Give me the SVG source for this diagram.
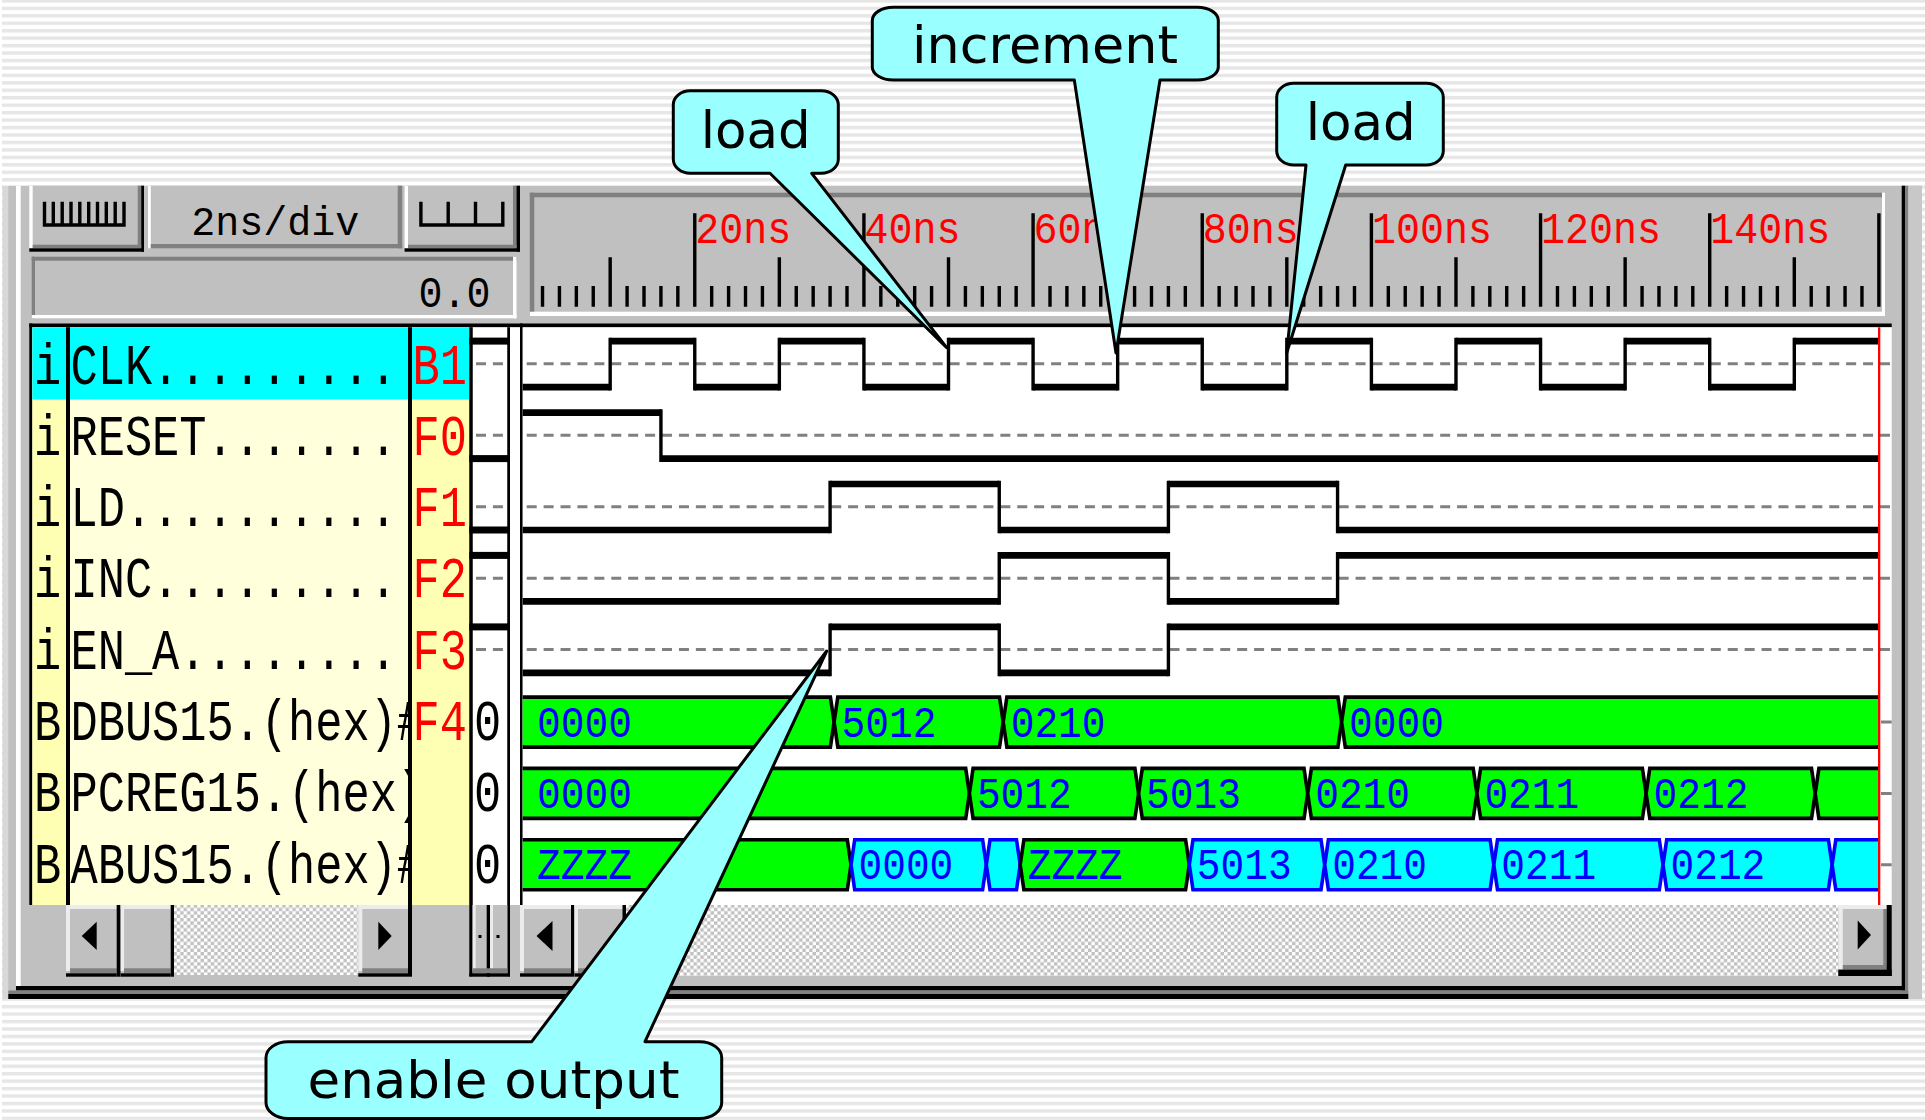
<svg xmlns="http://www.w3.org/2000/svg" width="1925" height="1120" viewBox="0 0 1925 1120">
<defs>
  <pattern id="bgStripes" x="0" y="-0.8" width="8" height="7.45" patternUnits="userSpaceOnUse">
    <rect width="8" height="7.45" fill="#ffffff"/>
    <rect width="8" height="3.4" fill="#e6e6e6"/>
  </pattern>
  <pattern id="checker" x="0" y="0" width="6.8" height="6.8" patternUnits="userSpaceOnUse">
    <rect width="6.8" height="6.8" fill="#c0c0c0"/>
    <rect width="3.4" height="3.4" fill="#ffffff"/>
    <rect x="3.4" y="3.4" width="3.4" height="3.4" fill="#ffffff"/>
  </pattern>
  <clipPath id="nameClip" clipPathUnits="userSpaceOnUse"><rect x="70" y="327" width="338" height="578"/></clipPath>
  <clipPath id="waveClip"><rect x="522.7" y="327.3" width="1356" height="578"/></clipPath>
  <style>
    .mono{font-family:"Liberation Mono","DejaVu Sans Mono",monospace}
    .lbl{font-size:45.33px;fill:#000000}
    .code{font-size:45.33px;fill:#ff0000}
    .rt{font-size:45px;fill:#ff0000}
    .bt{font-size:45px;fill:#0000ff}
    .lvl{fill:none;stroke:#000000;stroke-width:6.7}
    .ed{fill:none;stroke:#000000;stroke-width:3.4}
    .dash{fill:none;stroke:#808080;stroke-width:3;stroke-dasharray:10 6.916}
    .sg{fill:#00ff00;stroke:#000000;stroke-width:3.6}
    .sc{fill:#00ffff;stroke:#0000ff;stroke-width:3.6}
    .tick{fill:none;stroke:#000000;stroke-width:3.4}
    .face{fill:#c0c0c0}
    .lite{fill:#ececec}
    .shade{fill:#808080}
    .blk{fill:#000000}
    .callout{fill:#99ffff;stroke:#000000;stroke-width:3;stroke-linejoin:round}
    .ct{font-family:"DejaVu Sans",Verdana,sans-serif;font-size:51px;fill:#000000}
  </style>
</defs>

<!-- slide background -->
<rect width="1925" height="1120" fill="#ffffff"/>
<rect x="2" y="0" width="1923" height="1120" fill="url(#bgStripes)"/>

<!-- simulator window frame -->
<g id="window-frame">
  <rect x="2.7" y="185" width="1919.3" height="814" class="face"/>
  <rect x="2.7" y="185" width="5.6" height="814" fill="#d8d8d8"/>
  <rect x="2.7" y="183.3" width="1919.3" height="2.4" fill="#ffffff"/>
  <rect x="16" y="185.7" width="4.7" height="800.3" fill="#ffffff"/>
  <rect x="1901.7" y="185.7" width="3.3" height="804.8" class="blk"/>
  <rect x="1905" y="185.7" width="3.3" height="808.3" class="shade"/>
  <rect x="1908.3" y="185.7" width="13.7" height="813.3" fill="#c8c8c8"/>
  <rect x="16" y="986" width="1889" height="4.5" class="blk"/>
  <rect x="8.3" y="990.5" width="1900" height="3.5" class="shade"/>
  <rect x="8.3" y="994" width="1900" height="5" class="blk"/>
</g>

<!-- toolbar: zoom buttons, scale, cursor position -->
<g id="toolbar">
  <g id="btn-zoom-in">
    <rect x="29.3" y="185.7" width="114.7" height="66" class="face"/>
    <rect x="29.3" y="185.7" width="3.4" height="62.6" fill="#ffffff"/>
    <rect x="137.7" y="185.7" width="3.5" height="62.6" class="shade"/>
    <rect x="141.2" y="185.7" width="2.8" height="66" class="blk"/>
    <rect x="32.7" y="244.7" width="108.5" height="3.6" class="shade"/>
    <rect x="29.3" y="248.3" width="114.7" height="3.4" class="blk"/>
    <path class="tick" d="M44.5,201.7V226.7 M53.3,201.7V226.7 M62.2,201.7V226.7 M71,201.7V226.7 M79.8,201.7V226.7 M88.7,201.7V226.7 M97.5,201.7V226.7 M106.3,201.7V226.7 M115.2,201.7V226.7 M124,201.7V226.7 M42.8,225H125.7"/>
  </g>
  <g id="btn-scale">
    <rect x="148" y="185.7" width="254.2" height="62.6" class="face"/>
    <rect x="148" y="185.7" width="2.8" height="62.6" fill="#ffffff"/>
    <rect x="397.7" y="185.7" width="4.5" height="62.6" class="shade"/>
    <rect x="150.8" y="244" width="251.4" height="4.3" class="shade"/>
    <text x="191.3" y="235" class="mono" font-size="40" textLength="168" lengthAdjust="spacingAndGlyphs">2ns/div</text>
  </g>
  <g id="btn-zoom-out">
    <rect x="404.6" y="185.7" width="115.4" height="66" class="face"/>
    <rect x="404.6" y="185.7" width="3.4" height="62.6" fill="#ffffff"/>
    <rect x="513" y="185.7" width="3.5" height="62.6" class="shade"/>
    <rect x="516.5" y="185.7" width="3.5" height="66" class="blk"/>
    <rect x="408" y="244.7" width="108.5" height="3.6" class="shade"/>
    <rect x="404.6" y="248.3" width="115.4" height="3.4" class="blk"/>
    <path class="tick" d="M420.9,201.7V226.7 M448.2,201.7V226.7 M475.5,201.7V226.7 M502.8,201.7V226.7 M419.2,225H504.5"/>
  </g>
  <g id="cursor-position">
    <rect x="31.7" y="256.7" width="484.8" height="61.6" class="face"/>
    <rect x="31.7" y="256.7" width="484.8" height="4" class="shade"/>
    <rect x="31.7" y="256.7" width="3.3" height="61.6" class="shade"/>
    <rect x="31.7" y="315" width="484.8" height="3.3" fill="#ffffff"/>
    <rect x="513" y="256.7" width="3.5" height="61.6" fill="#ffffff"/>
    <text x="418.5" y="306.7" class="mono" font-size="45" textLength="72" lengthAdjust="spacingAndGlyphs">0.0</text>
  </g>
</g>

<!-- time ruler -->
<g id="time-ruler">
  <rect x="529.8" y="192.7" width="1352.2" height="4.6" class="shade"/>
  <rect x="529.8" y="192.7" width="4.5" height="123.3" class="shade"/>
  <rect x="529.8" y="311.7" width="1355.2" height="4.3" fill="#ffffff"/>
  <rect x="1882" y="192.7" width="3" height="123.3" fill="#ffffff"/>
  <path class="tick" d="M542.52,286V306.7 M559.43,286V306.7 M576.35,286V306.7 M593.26,286V306.7 M627.1,286V306.7 M644.01,286V306.7 M660.93,286V306.7 M677.84,286V306.7 M711.68,286V306.7 M728.59,286V306.7 M745.51,286V306.7 M762.42,286V306.7 M796.26,286V306.7 M813.17,286V306.7 M830.09,286V306.7 M847,286V306.7 M880.84,286V306.7 M897.75,286V306.7 M914.67,286V306.7 M931.58,286V306.7 M965.42,286V306.7 M982.33,286V306.7 M999.25,286V306.7 M1016.16,286V306.7 M1050,286V306.7 M1066.91,286V306.7 M1083.83,286V306.7 M1100.74,286V306.7 M1134.58,286V306.7 M1151.49,286V306.7 M1168.41,286V306.7 M1185.32,286V306.7 M1219.16,286V306.7 M1236.07,286V306.7 M1252.99,286V306.7 M1269.9,286V306.7 M1303.74,286V306.7 M1320.65,286V306.7 M1337.57,286V306.7 M1354.48,286V306.7 M1388.32,286V306.7 M1405.23,286V306.7 M1422.15,286V306.7 M1439.06,286V306.7 M1472.9,286V306.7 M1489.81,286V306.7 M1506.73,286V306.7 M1523.64,286V306.7 M1557.48,286V306.7 M1574.39,286V306.7 M1591.31,286V306.7 M1608.22,286V306.7 M1642.06,286V306.7 M1658.97,286V306.7 M1675.89,286V306.7 M1692.8,286V306.7 M1726.64,286V306.7 M1743.55,286V306.7 M1760.47,286V306.7 M1777.38,286V306.7 M1811.22,286V306.7 M1828.13,286V306.7 M1845.05,286V306.7 M1861.96,286V306.7"/>
  <path class="tick" d="M610.18,257.3V306.7 M779.34,257.3V306.7 M948.5,257.3V306.7 M1117.66,257.3V306.7 M1286.82,257.3V306.7 M1455.98,257.3V306.7 M1625.14,257.3V306.7 M1794.3,257.3V306.7"/>
  <path class="tick" d="M694.76,213.3V306.7 M863.92,213.3V306.7 M1033.08,213.3V306.7 M1202.24,213.3V306.7 M1371.4,213.3V306.7 M1540.56,213.3V306.7 M1709.72,213.3V306.7 M1878.88,213.3V306.7"/>
  <g class="mono rt">
    <text x="695.3" y="243.3" textLength="96" lengthAdjust="spacingAndGlyphs">20ns</text>
    <text x="864.4" y="243.3" textLength="96" lengthAdjust="spacingAndGlyphs">40ns</text>
    <text x="1033.6" y="243.3" textLength="96" lengthAdjust="spacingAndGlyphs">60ns</text>
    <text x="1202.7" y="243.3" textLength="96" lengthAdjust="spacingAndGlyphs">80ns</text>
    <text x="1371.9" y="243.3" textLength="120" lengthAdjust="spacingAndGlyphs">100ns</text>
    <text x="1541.1" y="243.3" textLength="120" lengthAdjust="spacingAndGlyphs">120ns</text>
    <text x="1710.2" y="243.3" textLength="120" lengthAdjust="spacingAndGlyphs">140ns</text>
  </g>
</g>

<!-- signal list panel -->
<g id="signal-list">
  <rect x="29.3" y="323.5" width="1862.4" height="3.8" class="blk"/>
  <rect x="29.3" y="323.5" width="3" height="581.5" class="blk"/>
  <rect x="32.3" y="327.3" width="33.7" height="577.7" fill="#ffffb4"/>
  <rect x="70" y="327.3" width="338" height="577.7" fill="#ffffdc"/>
  <rect x="412" y="327.3" width="57.3" height="577.7" fill="#ffffb4"/>
  <rect x="472.7" y="327.3" width="34.6" height="577.7" fill="#ffffff"/>
  <rect x="510" y="327.3" width="10" height="577.7" fill="#ffffff"/>
  <rect x="32.3" y="327.3" width="33.7" height="72.2" fill="#00ffff"/>
  <rect x="70" y="327.3" width="338" height="72.2" fill="#00ffff"/>
  <rect x="412" y="327.3" width="57.3" height="72.2" fill="#00ffff"/>
  <rect x="66" y="327.3" width="4" height="577.7" class="blk"/>
  <rect x="408" y="327.3" width="4" height="649.4" class="blk"/>
  <rect x="469.3" y="327.3" width="3.4" height="649" class="blk"/>
  <rect x="507.3" y="327.3" width="2.7" height="649" class="blk"/>
  <rect x="520" y="323.5" width="2.7" height="581.5" class="blk"/>

  <!-- type column -->
  <g class="mono lbl">
    <text transform="translate(34.1,383.5) scale(1,1.28)">i</text>
    <text transform="translate(34.1,454.8) scale(1,1.28)">i</text>
    <text transform="translate(34.1,526.1) scale(1,1.28)">i</text>
    <text transform="translate(34.1,597.4) scale(1,1.28)">i</text>
    <text transform="translate(34.1,668.7) scale(1,1.28)">i</text>
    <text transform="translate(34.1,740) scale(1,1.28)">B</text>
    <text transform="translate(34.1,811.3) scale(1,1.28)">B</text>
    <text transform="translate(34.1,882.6) scale(1,1.28)">B</text>
  </g>
  <!-- signal names, cut at the column edge -->
  <g class="mono lbl" clip-path="url(#nameClip)">
    <text transform="translate(70.5,383.5) scale(1,1.28)">CLK.........</text>
    <text transform="translate(70.5,454.8) scale(1,1.28)">RESET.......</text>
    <text transform="translate(70.5,526.1) scale(1,1.28)">LD..........</text>
    <text transform="translate(70.5,597.4) scale(1,1.28)">INC.........</text>
    <text transform="translate(70.5,668.7) scale(1,1.28)">EN_A........</text>
    <text transform="translate(70.5,740) scale(1,1.28)">DBUS15.(hex)#</text>
    <text transform="translate(70.5,811.3) scale(1,1.28)">PCREG15.(hex)</text>
    <text transform="translate(70.5,882.6) scale(1,1.28)">ABUS15.(hex)#</text>
  </g>
  <!-- stimulus keys -->
  <g class="mono code">
    <text transform="translate(412.5,383.5) scale(1,1.28)">B1</text>
    <text transform="translate(412.5,454.8) scale(1,1.28)">F0</text>
    <text transform="translate(412.5,526.1) scale(1,1.28)">F1</text>
    <text transform="translate(412.5,597.4) scale(1,1.28)">F2</text>
    <text transform="translate(412.5,668.7) scale(1,1.28)">F3</text>
    <text transform="translate(412.5,740) scale(1,1.28)">F4</text>
  </g>
  <!-- value-at-cursor column -->
  <g id="cursor-values">
    <path class="dash" d="M476,363.8H503 M476,435.25H503 M476,506.7H503 M476,578.15H503 M476,649.6H503"/>
    <rect x="469.3" y="337.6" width="40.7" height="7" class="blk"/>
    <rect x="469.3" y="455.1" width="40.7" height="7" class="blk"/>
    <rect x="469.3" y="526.5" width="40.7" height="7" class="blk"/>
    <rect x="469.3" y="551.9" width="40.7" height="7" class="blk"/>
    <rect x="469.3" y="623.4" width="40.7" height="7" class="blk"/>
    <g class="mono lbl">
      <text transform="translate(474,740) scale(1,1.28)">0</text>
      <text transform="translate(474,811.3) scale(1,1.28)">0</text>
      <text transform="translate(474,882.6) scale(1,1.28)">0</text>
    </g>
  </g>
</g>

<!-- waveform pane -->
<g id="waveform-pane">
  <rect x="522.7" y="327.3" width="1369" height="577.7" fill="#ffffff"/>
  <path class="dash" d="M526.7,363.8H1891.7 M526.7,435.25H1891.7 M526.7,506.7H1891.7 M526.7,578.15H1891.7 M526.7,649.6H1891.7"/>
  <path fill="none" stroke="#808080" stroke-width="3" d="M1881,722.1H1891.7 M1881,793.4H1891.7 M1881,864.7H1891.7"/>

  <g clip-path="url(#waveClip)">
    <g id="sig-clk" transform="translate(0,341.1)">
      <path class="lvl" d="M522,46H610.18 M610.18,0H694.76 M694.76,46H779.34 M779.34,0H863.92 M863.92,46H948.5 M948.5,0H1033.08 M1033.08,46H1117.66 M1117.66,0H1202.24 M1202.24,46H1286.82 M1286.82,0H1371.4 M1371.4,46H1455.98 M1455.98,0H1540.56 M1540.56,46H1625.14 M1625.14,0H1709.72 M1709.72,46H1794.3 M1794.3,0H1880"/>
      <path class="ed" d="M610.18,-3.35V49.35 M694.76,-3.35V49.35 M779.34,-3.35V49.35 M863.92,-3.35V49.35 M948.5,-3.35V49.35 M1033.08,-3.35V49.35 M1117.66,-3.35V49.35 M1202.24,-3.35V49.35 M1286.82,-3.35V49.35 M1371.4,-3.35V49.35 M1455.98,-3.35V49.35 M1540.56,-3.35V49.35 M1625.14,-3.35V49.35 M1709.72,-3.35V49.35 M1794.3,-3.35V49.35"/>
    </g>
    <g id="sig-reset" transform="translate(0,412.55)">
      <path class="lvl" d="M522,0H660.93 M660.93,46H1880"/>
      <path class="ed" d="M660.93,-3.35V49.35"/>
    </g>
    <g id="sig-ld" transform="translate(0,484)">
      <path class="lvl" d="M522,46H830.09 M830.09,0H999.25 M999.25,46H1168.41 M1168.41,0H1337.57 M1337.57,46H1880"/>
      <path class="ed" d="M830.09,-3.35V49.35 M999.25,-3.35V49.35 M1168.41,-3.35V49.35 M1337.57,-3.35V49.35"/>
    </g>
    <g id="sig-inc" transform="translate(0,555.45)">
      <path class="lvl" d="M522,46H999.25 M999.25,0H1168.41 M1168.41,46H1337.57 M1337.57,0H1880"/>
      <path class="ed" d="M999.25,-3.35V49.35 M1168.41,-3.35V49.35 M1337.57,-3.35V49.35"/>
    </g>
    <g id="sig-en-a" transform="translate(0,626.9)">
      <path class="lvl" d="M522,46H830.09 M830.09,0H999.25 M999.25,46H1168.41 M1168.41,0H1880"/>
      <path class="ed" d="M830.09,-3.35V49.35 M999.25,-3.35V49.35 M1168.41,-3.35V49.35"/>
    </g>

    <g id="bus-dbus" transform="translate(0,697.1)">
      <polygon class="sg" points="508.7,0 830.4,0 834.1,25 830.4,50 508.7,50 505,25"/>
      <polygon class="sg" points="837.8,0 999.5,0 1003.2,25 999.5,50 837.8,50 834.1,25"/>
      <polygon class="sg" points="1006.9,0 1337.9,0 1341.6,25 1337.9,50 1006.9,50 1003.2,25"/>
      <polygon class="sg" points="1345.3,0 1896.3,0 1900,25 1896.3,50 1345.3,50 1341.6,25"/>
      <g class="mono bt">
        <text x="537.1" y="39.6" textLength="94.8" lengthAdjust="spacingAndGlyphs">0000</text>
        <text x="841.6" y="39.6" textLength="94.8" lengthAdjust="spacingAndGlyphs">5012</text>
        <text x="1010.7" y="39.6" textLength="94.8" lengthAdjust="spacingAndGlyphs">0210</text>
        <text x="1349.1" y="39.6" textLength="94.8" lengthAdjust="spacingAndGlyphs">0000</text>
      </g>
    </g>
    <g id="bus-pcreg" transform="translate(0,768.4)">
      <polygon class="sg" points="508.7,0 965.7,0 969.4,25 965.7,50 508.7,50 505,25"/>
      <polygon class="sg" points="973.1,0 1134.9,0 1138.6,25 1134.9,50 973.1,50 969.4,25"/>
      <polygon class="sg" points="1142.3,0 1304,0 1307.7,25 1304,50 1142.3,50 1138.6,25"/>
      <polygon class="sg" points="1311.4,0 1473.2,0 1476.9,25 1473.2,50 1311.4,50 1307.7,25"/>
      <polygon class="sg" points="1480.6,0 1642.4,0 1646.1,25 1642.4,50 1480.6,50 1476.9,25"/>
      <polygon class="sg" points="1649.8,0 1811.5,0 1815.2,25 1811.5,50 1649.8,50 1646.1,25"/>
      <polygon class="sg" points="1818.9,0 1896.3,0 1900,25 1896.3,50 1818.9,50 1815.2,25"/>
      <g class="mono bt">
        <text x="537.1" y="39.6" textLength="94.8" lengthAdjust="spacingAndGlyphs">0000</text>
        <text x="976.9" y="39.6" textLength="94.8" lengthAdjust="spacingAndGlyphs">5012</text>
        <text x="1146.1" y="39.6" textLength="94.8" lengthAdjust="spacingAndGlyphs">5013</text>
        <text x="1315.2" y="39.6" textLength="94.8" lengthAdjust="spacingAndGlyphs">0210</text>
        <text x="1484.4" y="39.6" textLength="94.8" lengthAdjust="spacingAndGlyphs">0211</text>
        <text x="1653.6" y="39.6" textLength="94.8" lengthAdjust="spacingAndGlyphs">0212</text>
      </g>
    </g>
    <g id="bus-abus" transform="translate(0,839.7)">
      <polygon class="sg" points="508.7,0 847.3,0 851,25 847.3,50 508.7,50 505,25"/>
      <polygon class="sc" points="854.7,0 982.6,0 986.3,25 982.6,50 854.7,50 851,25"/>
      <polygon class="sc" points="990,0 1016.5,0 1020.2,25 1016.5,50 990,50 986.3,25"/>
      <polygon class="sg" points="1023.9,0 1185.6,0 1189.3,25 1185.6,50 1023.9,50 1020.2,25"/>
      <polygon class="sc" points="1193,0 1321,0 1324.7,25 1321,50 1193,50 1189.3,25"/>
      <polygon class="sc" points="1328.4,0 1490.1,0 1493.8,25 1490.1,50 1328.4,50 1324.7,25"/>
      <polygon class="sc" points="1497.5,0 1659.3,0 1663,25 1659.3,50 1497.5,50 1493.8,25"/>
      <polygon class="sc" points="1666.7,0 1828.4,0 1832.1,25 1828.4,50 1666.7,50 1663,25"/>
      <polygon class="sc" points="1835.8,0 1896.3,0 1900,25 1896.3,50 1835.8,50 1832.1,25"/>
      <g class="mono bt">
        <text x="537.1" y="39.6" textLength="94.8" lengthAdjust="spacingAndGlyphs">ZZZZ</text>
        <text x="858.5" y="39.6" textLength="94.8" lengthAdjust="spacingAndGlyphs">0000</text>
        <text x="1027.7" y="39.6" textLength="94.8" lengthAdjust="spacingAndGlyphs">ZZZZ</text>
        <text x="1196.8" y="39.6" textLength="94.8" lengthAdjust="spacingAndGlyphs">5013</text>
        <text x="1332.2" y="39.6" textLength="94.8" lengthAdjust="spacingAndGlyphs">0210</text>
        <text x="1501.3" y="39.6" textLength="94.8" lengthAdjust="spacingAndGlyphs">0211</text>
        <text x="1670.5" y="39.6" textLength="94.8" lengthAdjust="spacingAndGlyphs">0212</text>
      </g>
    </g>
  </g>
  <!-- cursor -->
  <rect x="1878" y="327.3" width="2.3" height="577.7" fill="#ff0000"/>
</g>

<!-- scroll bars -->
<g id="scrollbars">
  <!-- name list -->
  <rect x="66" y="905" width="50.7" height="71.7" class="face"/>
  <rect x="66" y="905" width="4" height="66" class="lite"/>
  <rect x="66" y="905" width="50.7" height="4" class="lite"/>
  <rect x="70" y="968.3" width="46.7" height="5" class="shade"/>
  <rect x="66" y="973.3" width="50.7" height="3.4" class="blk"/>
  <rect x="116.7" y="905" width="4" height="71.7" class="blk"/>
  <polygon points="81.7,936 96.7,921.7 96.7,950" class="blk"/>
  <rect x="120.7" y="905" width="50" height="71.7" class="face"/>
  <rect x="120.7" y="905" width="3.4" height="66" class="lite"/>
  <rect x="120.7" y="905" width="50" height="4" class="lite"/>
  <rect x="124" y="968.3" width="46.7" height="5" class="shade"/>
  <rect x="120.7" y="973.3" width="50" height="3.4" class="blk"/>
  <rect x="170.7" y="905" width="3.3" height="71.7" class="blk"/>
  <rect x="174" y="905" width="184.3" height="70" fill="url(#checker)"/>
  <rect x="358.3" y="905" width="49.7" height="71.7" class="face"/>
  <rect x="358.3" y="905" width="4" height="66" class="lite"/>
  <rect x="358.3" y="905" width="49.7" height="4" class="lite"/>
  <rect x="362.3" y="968.3" width="45.7" height="5" class="shade"/>
  <rect x="358.3" y="973.3" width="49.7" height="3.4" class="blk"/>
  <polygon points="391.7,936 378.3,921.7 378.3,950" class="blk"/>
  <!-- value column -->
  <rect x="472.7" y="905" width="14" height="71.7" class="face"/>
  <rect x="472.7" y="905" width="3" height="66" class="lite"/>
  <rect x="486.7" y="905" width="3.3" height="71.7" class="blk"/>
  <rect x="490" y="905" width="17.3" height="71.7" class="face"/>
  <rect x="490" y="905" width="3" height="66" class="lite"/>
  <rect x="472.7" y="968.3" width="34.6" height="5" class="shade"/>
  <rect x="469.3" y="973.3" width="40.7" height="3.4" class="blk"/>
  <rect x="478.5" y="935" width="3" height="3" class="blk"/>
  <rect x="496.5" y="935" width="3" height="3" class="blk"/>
  <!-- waveform pane -->
  <rect x="520" y="905" width="51" height="71.7" class="face"/>
  <rect x="520" y="905" width="4" height="66" class="lite"/>
  <rect x="520" y="905" width="51" height="4" class="lite"/>
  <rect x="524" y="968.3" width="47" height="5" class="shade"/>
  <rect x="520" y="973.3" width="51" height="3.4" class="blk"/>
  <rect x="571" y="905" width="3.5" height="71.7" class="blk"/>
  <polygon points="536.5,936 552.5,921 552.5,951" class="blk"/>
  <rect x="574.5" y="905" width="51.5" height="71.7" class="face"/>
  <rect x="574.5" y="905" width="3.5" height="66" class="lite"/>
  <rect x="574.5" y="905" width="51.5" height="4" class="lite"/>
  <rect x="578" y="968.3" width="44.5" height="5" class="shade"/>
  <rect x="574.5" y="973.3" width="51.5" height="3.4" class="blk"/>
  <rect x="622.5" y="905" width="3.5" height="71.7" class="blk"/>
  <rect x="626" y="905" width="1212.3" height="71" fill="url(#checker)"/>
  <rect x="1838.3" y="905" width="53.4" height="71" class="face"/>
  <rect x="1838.3" y="905" width="4.5" height="64.6" class="lite"/>
  <rect x="1838.3" y="905" width="48.4" height="4" class="lite"/>
  <rect x="1883.3" y="909" width="3.4" height="60.6" class="shade"/>
  <rect x="1842.8" y="965" width="44" height="4.6" class="shade"/>
  <rect x="1886.7" y="905" width="5" height="71" class="blk"/>
  <rect x="1838.3" y="969.6" width="53.4" height="6.4" class="blk"/>
  <polygon points="1871,935 1857.7,920.5 1857.7,949.5" class="blk"/>
</g>

<!-- annotation callouts -->
<g id="callout-load-1">
  <path class="callout" d="M690.3,90.7 H821.3 A17,14 0 0 1 838.3,104.7 V159.3 A17,14 0 0 1 821.3,173.3 H811.7 L946.7,347.7 L770,173.3 H690.3 A17,14 0 0 1 673.3,159.3 V104.7 A17,14 0 0 1 690.3,90.7 Z"/>
  <text x="755.8" y="147.7" class="ct" text-anchor="middle" textLength="110" lengthAdjust="spacingAndGlyphs">load</text>
</g>
<g id="callout-increment">
  <path class="callout" d="M893.3,7.3 H1197.3 A21,13 0 0 1 1218.3,20.3 V67 A21,13 0 0 1 1197.3,80 H1160 L1116,353 L1074.3,80 H893.3 A21,13 0 0 1 872.3,67 V20.3 A21,13 0 0 1 893.3,7.3 Z"/>
  <text x="1045" y="63.3" class="ct" text-anchor="middle" textLength="266" lengthAdjust="spacingAndGlyphs">increment</text>
</g>
<g id="callout-load-2">
  <path class="callout" d="M1293.7,83.3 H1426.3 A17,14 0 0 1 1443.3,97.3 V151 A17,14 0 0 1 1426.3,165 H1345.7 L1286.7,353 L1306,165 H1293.7 A17,14 0 0 1 1276.7,151 V97.3 A17,14 0 0 1 1293.7,83.3 Z"/>
  <text x="1360.8" y="140" class="ct" text-anchor="middle" textLength="110" lengthAdjust="spacingAndGlyphs">load</text>
</g>
<g id="callout-enable-output">
  <path class="callout" d="M288,1041.7 H531.7 L826.7,651 L645,1041.7 H699.7 A22,16 0 0 1 721.7,1057.7 V1102.5 A22,16 0 0 1 699.7,1118.5 H288 A22,16 0 0 1 266,1102.5 V1057.7 A22,16 0 0 1 288,1041.7 Z"/>
  <text x="493.5" y="1098.3" class="ct" text-anchor="middle" textLength="372" lengthAdjust="spacingAndGlyphs">enable output</text>
</g>
</svg>
